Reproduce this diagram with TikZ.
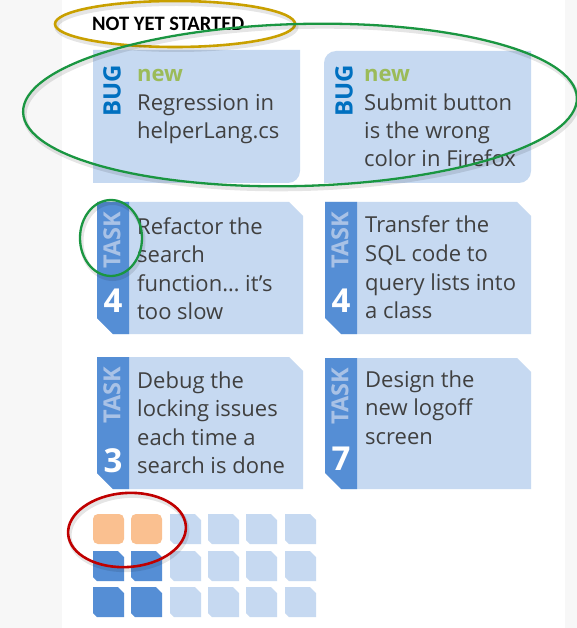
\documentclass[tikz,border=0pt]{standalone}
\usepackage{fontspec}
\setmainfont{Open Sans}
\newfontfamily\hdrfont{Carlito}
\definecolor{pagegray}{HTML}{F7F7F7}
\definecolor{cardblue}{HTML}{C6D9F1}
\definecolor{stripblue}{HTML}{558ED5}
\definecolor{bugblue}{HTML}{0070C0}
\definecolor{tagblue}{HTML}{A9C2E6}
\definecolor{newgreen}{HTML}{9BBB59}
\definecolor{bodytext}{HTML}{404040}
\definecolor{bugorange}{HTML}{FAC090}
\definecolor{ringgold}{HTML}{C9A000}
\definecolor{ringgreen}{HTML}{1A9641}
\definecolor{ringred}{HTML}{C00000}

% one line of card text per node
\newcommand\cardlines[5]{%
  \foreach \ln [count=\k] in {#5} {\node[cardtext] (#1-\k) at (#2,{#3+(\k-1)*#4}) {\ln};}}

% task card: name, x0, y0, x1, y1, estimate, baseline of the estimate
\newcommand\taskcard[7]{%
  \fill[cardblue] (#2,#3) -- ({#4-14},#3) -- (#4,{#3+14}) -- (#4,#5) -- ({#2+16},#5) -- (#2,{#5-16}) -- cycle;
  \fill[stripblue] (#2,#3) -- ({#2+32},#3) -- ({#2+32},#5) -- ({#2+16},#5) -- (#2,{#5-16}) -- cycle;
  \node[tasktag] (#1-tag) at ({#2+15},{#3+38}) {TASK};
  \node[tasknum] (#1-num) at ({#2+16},#7) {#6};
}

% small tile of the backlog overview
\newcommand\tile[3]{%
  \fill[#3] (#1,#2) -- ({#1+25},#2) -- ({#1+31},{#2+6}) -- ({#1+31},{#2+30}) -- ({#1+4},{#2+30}) -- (#1,{#2+26}) -- cycle;}

\begin{document}
\begin{tikzpicture}[x=1pt,y=-1pt,
  cardtext/.style={anchor=base west,inner sep=0pt,text=bodytext,font=\fontsize{22}{28}\selectfont},
  newtag/.style={anchor=base west,inner sep=0pt,text=newgreen,font=\bfseries\fontsize{22}{26}\selectfont},
  bugtag/.style={rotate=90,inner sep=0pt,text=bugblue,font=\bfseries\fontsize{24}{26}\selectfont},
  tasktag/.style={rotate=90,inner sep=0pt,text=tagblue,font=\bfseries\fontsize{23.5}{26}\selectfont},
  tasknum/.style={anchor=base,inner sep=0pt,text=white,font=\bfseries\fontsize{33}{36}\selectfont},
  ring/.style={line width=2.3pt},
  ringshadow/.style={line width=4pt,draw=black,draw opacity=0.1,shift={(1.5,3)}}]
\useasboundingbox (0,0) rectangle (577,628);
\fill[pagegray] (0,0) rectangle (577,628);
\fill[white] (62,0) rectangle (565,628);

% column header
\node[anchor=base west,inner sep=0pt,font=\hdrfont\bfseries\fontsize{20.5}{24}\selectfont] (hdr) at (92,30.5) {NOT YET STARTED};

% bug cards
\fill[cardblue] (93,50) -- (300,50) -- (300,171) arc[start angle=0,end angle=90,radius=12] -- (93,183) -- cycle;
\node[bugtag] (bug1-tag) at (112,91) {BUG};
\node[newtag] (bug1-new) at (137,82) {new};
\cardlines{bug1}{137}{111}{28}{Regression in,helperLang.cs}

\fill[cardblue] (324,63) arc[start angle=180,end angle=270,radius=12] -- (531,51) -- (531,171) arc[start angle=0,end angle=90,radius=12] -- (324,183) -- cycle;
\node[bugtag] (bug2-tag) at (344,91) {BUG};
\node[newtag] (bug2-new) at (364,82) {new};
\cardlines{bug2}{364}{111}{28}{Submit button,is the wrong,color in Firefox}

% task cards
\taskcard{task1}{97}{202}{303}{334}{4}{312}
\cardlines{task1}{137}{234}{28.5}{Refactor the,search,function… it’s,too slow}
\taskcard{task2}{325}{202}{531}{334}{4}{312}
\cardlines{task2}{365}{233}{28.5}{Transfer the,SQL code to,query lists into,a class}
\taskcard{task3}{97}{357}{303}{489}{3}{472}
\cardlines{task3}{137}{388}{28.5}{Debug the,locking issues,each time a,search is done}
\taskcard{task4}{325}{358}{531}{489}{7}{470}
\cardlines{task4}{365}{387}{28.5}{Design the,new logoff,screen}

% overview tiles
\foreach \cx in {93,131} {
  \fill[bugorange,rounded corners=5pt] (\cx,514) rectangle ({\cx+31},544);
  \tile{\cx}{551}{stripblue}
  \tile{\cx}{587}{stripblue}
}
\foreach \cx in {170,208,246,285} {
  \foreach \cy in {514,551,587} {\tile{\cx}{\cy}{cardblue}}
}

% highlight rings
\draw[ringshadow] (175,24) ellipse [x radius=120,y radius=23];
\draw[ring,ringgold,line width=2.6pt] (175,24) ellipse [x radius=120,y radius=23];
\draw[ringshadow,rotate around={1.5:(300,105)}] (300,105) ellipse [x radius=277,y radius=81];
\draw[ring,ringgreen,rotate around={1.5:(300,105)}] (300,105) ellipse [x radius=277,y radius=81];
\draw[ringshadow] (111,238) ellipse [x radius=31,y radius=38];
\draw[ring,ringgreen] (111,238) ellipse [x radius=31,y radius=38];
\draw[ringshadow,rotate around={4:(127,530)}] (127,530) ellipse [x radius=59,y radius=37];
\draw[ring,ringred,line width=2.6pt,rotate around={4:(127,530)}] (127,530) ellipse [x radius=59,y radius=37];
\end{tikzpicture}
\end{document}
